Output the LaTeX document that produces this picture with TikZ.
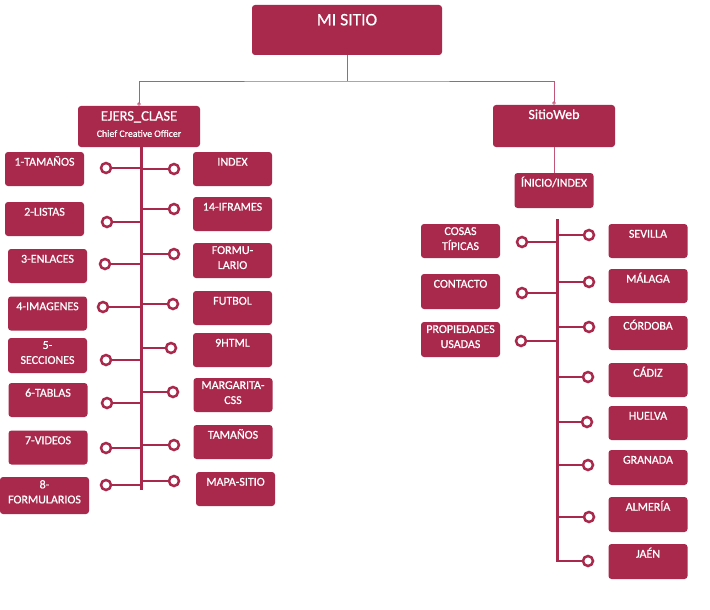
\documentclass[tikz,border=0pt]{standalone}
\usepackage{fontspec}
\setmainfont{Carlito}[FakeBold=0.8]
\usetikzlibrary{arrows.meta}
\definecolor{vino}{HTML}{A8294C}
\definecolor{rosa}{HTML}{C25578}

\begin{document}
\begin{tikzpicture}[
    x=1pt, y=-1pt,
    texto/.style={anchor=north, text=white, align=center, inner sep=3.2pt, font=\fontsize{12}{15}\selectfont, execute at begin node=\strut},
    cajaBase/.style={fill=vino, rounded corners=3pt, minimum width=79pt, minimum height=34pt, inner sep=0pt},
    caja/.style={cajaBase, label={[texto]north:#1}},
    bola/.style={circle, draw=vino, line width=2.5pt, fill=white, minimum size=10pt, inner sep=0pt},
    rama/.style={draw=vino, line width=2.5pt},
    espina/.style={draw=vino, line width=3pt},
    fina/.style={draw=rosa, line width=0.8pt},
    extremos/.style={{Circle[open, length=3.5pt, width=3.5pt]}-{Circle[open, length=3.5pt, width=3.5pt]}}
]
\useasboundingbox (0,0) rectangle (710,610);
% Raiz
\node[cajaBase, minimum width=190pt, minimum height=50pt, label={[texto, inner sep=5.6pt, font=\fontsize{17.5}{21}\selectfont]north:MI SITIO}] (miSitio) at (347,30) {};
% Ramas principales
\node[cajaBase, minimum width=122pt, minimum height=41pt, label={[texto, inner sep=5.2pt, font=\fontsize{14.5}{16.3}\selectfont]north:EJERS\_CLASE\\{\fontsize{9.8}{11}\selectfont Chief Creative Officer}}] (ejers) at (139,126.5) {};
\node[cajaBase, minimum width=122pt, minimum height=42pt, label={[texto, inner sep=2.3pt, font=\fontsize{14}{16.8}\selectfont]north:SitioWeb}] (sitioWeb) at (554,126) {};
\node[caja={ÍNICIO/INDEX}, minimum height=35pt] (inicio) at (554,190.5) {};
% Aristas superiores
\coordinate (cruce) at (347,81);
\draw[fina] (miSitio.south) -- (cruce);
\draw[fina, extremos] (ejers.north) |- (cruce) -| (sitioWeb.north);
\draw[fina] (sitioWeb) -- (inicio);
% Ejes
\coordinate (finIzq) at (141,490);
\coordinate (iniDer) at (557,219);
\coordinate (finDer) at (557,562);
\draw[espina] (ejers.south -| finIzq) -- (finIzq);
\draw[espina] (iniDer) -- (finDer);
% EJERS_CLASE, izquierda
\node[caja={1-TAMAÑOS}] (tamanos1) at (44.5,169) {};
\node[caja={2-LISTAS}] (listas) at (44.5,219) {};
\node[caja={3-ENLACES}] (enlaces) at (47.5,266) {};
\node[caja={4-IMAGENES}] (imagenes) at (47.5,313.5) {};
\node[caja={5-\\SECCIONES}, minimum height=35pt] (secciones) at (47.5,355.5) {};
\node[caja={6-TABLAS}] (tablas) at (48,400) {};
\node[caja={7-VIDEOS}] (videos) at (48,447.5) {};
\node[caja={8-\\FORMULARIOS}, minimum width=89pt, minimum height=37pt] (formularios) at (44.5,495.5) {};
\node[bola] (bTamanos1) at (106,168) {}; \draw[rama] (bTamanos1) -- (bTamanos1 -| finIzq);
\node[bola] (bListas) at (107,222) {}; \draw[rama] (bListas) -- (bListas -| finIzq);
\node[bola] (bEnlaces) at (105,264) {}; \draw[rama] (bEnlaces) -- (bEnlaces -| finIzq);
\node[bola] (bImagenes) at (103,307) {}; \draw[rama] (bImagenes) -- (bImagenes -| finIzq);
\node[bola] (bSecciones) at (106,360) {}; \draw[rama] (bSecciones) -- (bSecciones -| finIzq);
\node[bola] (bTablas) at (107,403) {}; \draw[rama] (bTablas) -- (bTablas -| finIzq);
\node[bola] (bVideos) at (106,448) {}; \draw[rama] (bVideos) -- (bVideos -| finIzq);
\node[bola] (bFormularios) at (106,485) {}; \draw[rama] (bFormularios) -- (bFormularios -| finIzq);
% EJERS_CLASE, derecha
\node[caja={INDEX}] (index) at (232.5,169) {};
\node[caja={14-IFRAMES}] (iframes) at (232.5,214) {};
\node[caja={FORMU-\\LARIO}, minimum height=35pt] (formulario) at (232.5,260.5) {};
\node[caja={FUTBOL}] (futbol) at (232.5,308) {};
\node[caja={9HTML}] (html) at (232.5,350) {};
\node[caja={MARGARITA-\\CSS}] (margarita) at (233,395) {};
\node[caja={TAMAÑOS}] (tamanos) at (233,442) {};
\node[caja={MAPA-SITIO}] (mapa) at (235.5,489) {};
\node[bola] (bIndex) at (174,169) {}; \draw[rama] (bIndex -| finIzq) -- (bIndex);
\node[bola] (bIframes) at (174,209) {}; \draw[rama] (bIframes -| finIzq) -- (bIframes);
\node[bola] (bFormulario) at (174,254) {}; \draw[rama] (bFormulario -| finIzq) -- (bFormulario);
\node[bola] (bFutbol) at (173,304) {}; \draw[rama] (bFutbol -| finIzq) -- (bFutbol);
\node[bola] (bHtml) at (171,348) {}; \draw[rama] (bHtml -| finIzq) -- (bHtml);
\node[bola] (bMargarita) at (173,392) {}; \draw[rama] (bMargarita -| finIzq) -- (bMargarita);
\node[bola] (bTamanos) at (174,445) {}; \draw[rama] (bTamanos -| finIzq) -- (bTamanos);
\node[bola] (bMapa) at (174,481) {}; \draw[rama] (bMapa -| finIzq) -- (bMapa);
% SitioWeb, izquierda
\node[caja={COSAS\\TÍPICAS}] (cosas) at (460.5,241) {};
\node[caja={CONTACTO}, minimum height=35pt] (contacto) at (460.5,291.5) {};
\node[caja={PROPIEDADES\\USADAS}, minimum height=35pt] (propiedades) at (460.5,339.5) {};
\node[bola] (bCosas) at (522,242) {}; \draw[rama] (bCosas) -- (bCosas -| finDer);
\node[bola] (bContacto) at (522,293) {}; \draw[rama] (bContacto) -- (bContacto -| finDer);
\node[bola] (bPropiedades) at (521,341) {}; \draw[rama] (bPropiedades) -- (bPropiedades -| finDer);
% SitioWeb, derecha
\node[caja={SEVILLA}] (sevilla) at (648,241) {};
\node[caja={MÁLAGA}] (malaga) at (648,286) {};
\node[caja={CÓRDOBA}] (cordoba) at (648,333) {};
\node[caja={CÁDIZ}] (cadiz) at (648,380) {};
\node[caja={HUELVA}] (huelva) at (648,423) {};
\node[caja={GRANADA}, minimum height=35pt] (granada) at (648,467.5) {};
\node[caja={ALMERÍA}, minimum height=35pt] (almeria) at (648,514.5) {};
\node[caja={JAÉN}, minimum height=35pt] (jaen) at (648,561.5) {};
\node[bola] (bSevilla) at (589,235) {}; \draw[rama] (bSevilla -| finDer) -- (bSevilla);
\node[bola] (bMalaga) at (589,282) {}; \draw[rama] (bMalaga -| finDer) -- (bMalaga);
\node[bola] (bCordoba) at (589,327) {}; \draw[rama] (bCordoba -| finDer) -- (bCordoba);
\node[bola] (bCadiz) at (588,377) {}; \draw[rama] (bCadiz -| finDer) -- (bCadiz);
\node[bola] (bHuelva) at (587,422) {}; \draw[rama] (bHuelva -| finDer) -- (bHuelva);
\node[bola] (bGranada) at (588,465) {}; \draw[rama] (bGranada -| finDer) -- (bGranada);
\node[bola] (bAlmeria) at (589,517) {}; \draw[rama] (bAlmeria -| finDer) -- (bAlmeria);
\node[bola] (bJaen) at (588,561) {}; \draw[rama] (bJaen -| finDer) -- (bJaen);
\end{tikzpicture}
\end{document}
